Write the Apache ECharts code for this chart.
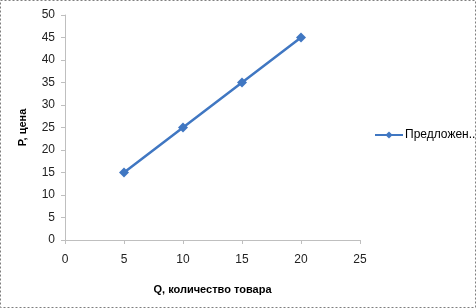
<!DOCTYPE html>
<html><head><meta charset="utf-8">
<script src="https://cdn.jsdelivr.net/npm/echarts@6/dist/echarts.min.js"></script>
<style>html,body{margin:0;padding:0;background:#fff}#c{width:476px;height:308px}</style>
</head><body><div id="c"></div>
<script>
var quantities = [5, 10, 15, 20];
var prices = [15, 25, 35, 45];
var seriesName = 'Предложен...';
var xTitle = 'Q, количество товара';
var yTitle = 'P, цена';

var chart = echarts.init(document.getElementById('c'), null, {renderer: 'canvas'});
var font = 'Liberation Sans';
chart.setOption({
  animation: false,
  backgroundColor: '#fff',
  grid: {left: 65, right: 116, top: 15, bottom: 68},
  graphic: [{type: 'rect', z: 100, shape: {x: 0.5, y: 0.5, width: 475, height: 307},
    style: {fill: 'none', stroke: '#7f7f7f', lineWidth: 1, lineDash: [2, 2]}}],
  legend: {
    left: 369, top: 124, itemWidth: 28, itemHeight: 9, itemGap: 2,
    textStyle: {fontFamily: font, fontSize: 12, color: '#000', padding: [0,0,0,-3]},
    data: [seriesName]
  },
  xAxis: {
    type: 'value', min: 0, max: 25, interval: 5,
    name: xTitle, nameLocation: 'middle', nameGap: 44,
    nameTextStyle: {fontFamily: font, fontSize: 11, fontWeight: 'bold', color: '#000'},
    axisLine: {lineStyle: {color: '#bfbfbf'}},
    axisTick: {show: true, length: 4, lineStyle: {color: '#bfbfbf'}},
    axisLabel: {fontFamily: font, fontSize: 12, color: '#222', margin: 14},
    splitLine: {show: false}
  },
  yAxis: {
    type: 'value', min: 0, max: 50, interval: 5,
    name: yTitle, nameLocation: 'middle', nameGap: 37, nameRotate: 90,
    nameTextStyle: {fontFamily: font, fontSize: 11, fontWeight: 'bold', color: '#000'},
    axisLine: {show: true, lineStyle: {color: '#bfbfbf'}},
    axisTick: {show: true, length: 4, lineStyle: {color: '#bfbfbf'}},
    axisLabel: {fontFamily: font, fontSize: 12, color: '#222', margin: 10},
    splitLine: {show: false}
  },
  series: [{
    name: seriesName, type: 'line',
    data: quantities.map(function(q, i){ return [q, prices[i]]; }),
    symbol: 'diamond', symbolSize: 10,
    lineStyle: {color: '#4077c2', width: 2.5},
    itemStyle: {color: '#4077c2'}
  }]
});
</script></body></html>
